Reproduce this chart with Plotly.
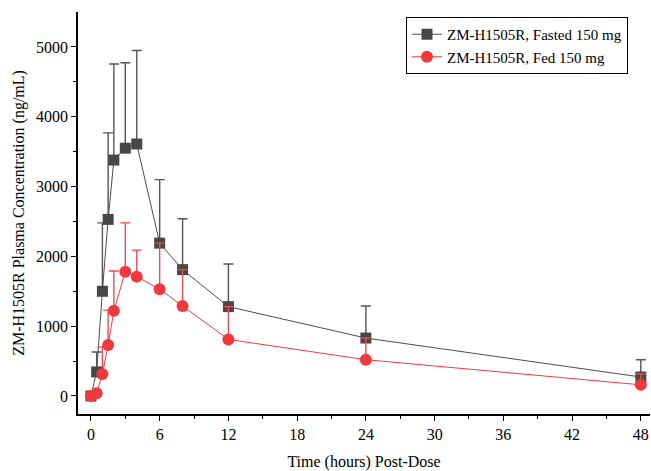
import plotly.graph_objects as go

time_h = [0, 0.5, 1, 1.5, 2, 3, 4, 6, 8, 12, 24, 48]
fasted_mean = [0, 345, 1500, 2530, 3380, 3550, 3610, 2190, 1810, 1280, 830, 272]
fasted_upper = [30, 630, 2480, 3770, 4755, 4775, 4950, 3100, 2540, 1890, 1290, 520]
fed_mean = [0, 40, 315, 730, 1220, 1780, 1710, 1530, 1290, 810, 520, 160]
fed_upper = [0, 60, 700, 1230, 1790, 2480, 2090, 2190, 1810, 1280, 830, 315]

x_ticks = [0, 6, 12, 18, 24, 30, 36, 42, 48]
x_minor = [3, 9, 15, 21, 27, 33, 39, 45]
y_ticks = [0, 1000, 2000, 3000, 4000, 5000]
y_minor = [500, 1500, 2500, 3500, 4500]

fasted_err = [u - m for u, m in zip(fasted_upper, fasted_mean)]
fed_err = [u - m for u, m in zip(fed_upper, fed_mean)]
zeros = [0] * len(time_h)

FONT = "Liberation Serif"

fig = go.Figure()
fig.add_trace(go.Scatter(
    x=time_h, y=fasted_mean, mode="lines+markers",
    name="ZM-H1505R, Fasted 150 mg",
    line=dict(color="#4d4d4d", width=1),
    marker=dict(symbol="square", size=11, color="#474747"),
    error_y=dict(type="data", array=fasted_err, arrayminus=zeros, symmetric=False,
                 color="#555555", thickness=1.4, width=5),
))
fig.add_trace(go.Scatter(
    x=time_h, y=fed_mean, mode="lines+markers",
    name="ZM-H1505R, Fed 150 mg",
    line=dict(color="#f0393c", width=1),
    marker=dict(symbol="circle", size=12, color="#f0393c"),
    error_y=dict(type="data", array=fed_err, arrayminus=zeros, symmetric=False,
                 color="#f04a4d", thickness=1.4, width=5),
))

fig.update_layout(
    width=651, height=471,
    margin=dict(l=78, r=1, t=12, b=57),
    paper_bgcolor="white", plot_bgcolor="white",
    font=dict(family=FONT, size=16, color="black"),
    showlegend=True,
    legend=dict(x=0.9615, y=0.9876, xanchor="right", yanchor="top",
                bordercolor="black", borderwidth=1, bgcolor="white",
                font=dict(family=FONT, size=15, color="black"), tracegroupgap=0,
                itemwidth=30),
    xaxis=dict(
        range=[-1.13, 48.8], tickmode="array", tickvals=x_ticks,
        tickfont=dict(family=FONT, size=16, color="black"),
        ticks="outside", ticklen=5, tickwidth=1, tickcolor="black",
        showline=True, linecolor="black", linewidth=1.5,
        showgrid=False, zeroline=False,
        minor=dict(tickvals=x_minor, ticks="outside", ticklen=3, tickcolor="black"),
        title=dict(text="Time (hours) Post-Dose", font=dict(family=FONT, size=16, color="black"), standoff=14),
    ),
    yaxis=dict(
        range=[-258, 5501], tickmode="array", tickvals=y_ticks,
        tickfont=dict(family=FONT, size=16, color="black"),
        ticks="outside", ticklen=5, tickwidth=1, tickcolor="black",
        showline=True, linecolor="black", linewidth=1.5,
        showgrid=False, zeroline=False,
        minor=dict(tickvals=y_minor, ticks="outside", ticklen=3, tickcolor="black"),
        title=dict(text="ZM-H1505R Plasma Concentration (ng/mL)", font=dict(family=FONT, size=16, color="black"), standoff=7),
    ),
)

fig.write_html("out.html")
